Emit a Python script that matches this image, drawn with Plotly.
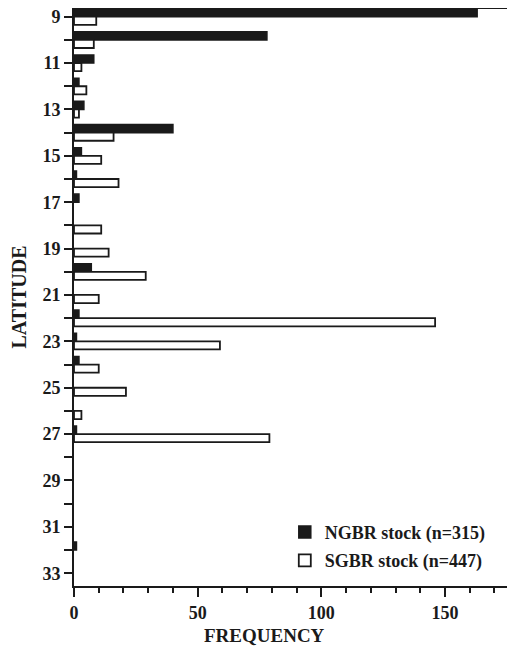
import plotly.graph_objects as go

latitude = list(range(9, 34))
ngbr = [163, 78, 8, 2, 4, 40, 3, 1, 2, 0, 0, 7, 0, 2, 1, 2, 0, 0, 1, 0, 0, 0, 0, 1, 0]
sgbr = [9, 8, 3, 5, 2, 16, 11, 18, 0, 11, 14, 29, 10, 146, 59, 10, 21, 3, 79, 0, 0, 0, 0, 0, 0]
ytick_text = [str(v) if v % 2 == 1 else "" for v in latitude]

FONT = "Liberation Serif"
INK = "#1a1a1a"

fig = go.Figure()
fig.add_trace(go.Bar(
    y=latitude, x=ngbr, orientation="h", name="NGBR stock (n=315)", legendgroup="a",
    marker=dict(color=INK, line=dict(color=INK, width=[1.5 if v > 0 else 0 for v in ngbr])),
))
fig.add_trace(go.Bar(
    y=latitude, x=sgbr, orientation="h", name="SGBR stock (n=447)", legendgroup="b",
    marker=dict(color="white", line=dict(color=INK, width=[1.8 if v > 0 else 0 for v in sgbr])),
))

fig.update_layout(
    width=507, height=639,
    margin=dict(l=66, r=0, t=0, b=61, autoexpand=False),
    paper_bgcolor="white", plot_bgcolor="white",
    barmode="group", bargap=0.3, bargroupgap=0,
    font=dict(family=FONT, size=16, color=INK, weight="bold"),
    showlegend=True,
    legend=dict(x=0.478, xanchor="left", y=0.125, yanchor="top",
                bgcolor="rgba(0,0,0,0)", traceorder="grouped", tracegroupgap=2,
                font=dict(family=FONT, size=18, color=INK, weight="bold"),
                itemwidth=30),
    xaxis=dict(range=[0, 178.3], showgrid=False, zeroline=False, automargin=False,
               showline=True, linecolor=INK, linewidth=2,
               ticks="outside", ticklen=9, tickwidth=2, tickcolor=INK,
               tickvals=[0, 50, 100, 150], ticklabeloverflow="allow",
               minor=dict(dtick=10, ticks="outside", ticklen=5, tickwidth=2, tickcolor=INK),
               tickfont=dict(family=FONT, size=18, weight="bold")),
    yaxis=dict(range=[33.55, 8.625], showgrid=False, zeroline=False, automargin=False,
               showline=True, linecolor=INK, linewidth=2,
               ticks="outside", ticklen=8, tickwidth=2, tickcolor=INK,
               tickvals=latitude, ticktext=ytick_text, ticklabeloverflow="allow",
               tickfont=dict(family=FONT, size=18, weight="bold"),
               title=dict(text="LATITUDE", standoff=16,
                          font=dict(family=FONT, size=20, weight="bold"))),
    shapes=[dict(type="line", xref="paper", yref="paper", x0=0, x1=1, y0=1, y1=1,
                 line=dict(color=INK, width=2))],
    annotations=[dict(text="FREQUENCY", xref="paper", yref="paper",
                      x=0.433, y=-0.0848, xanchor="center", yanchor="middle",
                      showarrow=False, font=dict(family=FONT, size=19, weight="bold"))],
)

fig.write_html("out.html")
